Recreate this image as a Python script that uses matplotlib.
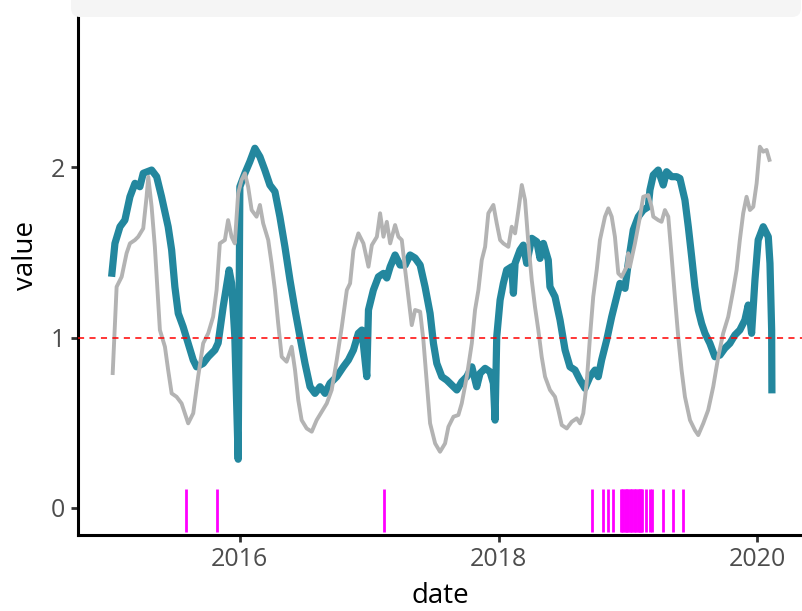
import matplotlib
matplotlib.use("Agg")
import matplotlib.pyplot as plt
import matplotlib.dates as mdates
from matplotlib.patches import FancyBboxPatch
from matplotlib.transforms import IdentityTransform
import numpy as np
from datetime import datetime

plt.rcParams['font.family'] = ['Open Sans', 'DejaVu Sans']

# ---- data (decimal years, values) ----
teal_t = [2015.007, 2015.033, 2015.072, 2015.110, 2015.149, 2015.188, 2015.226, 2015.252, 2015.317,
          2015.356, 2015.394, 2015.445, 2015.472, 2015.497, 2015.523, 2015.561, 2015.600, 2015.639,
          2015.665, 2015.716, 2015.755, 2015.807, 2015.832, 2015.871, 2015.917, 2015.936, 2015.961,
          2015.987, 2016.000, 2016.039, 2016.077, 2016.116, 2016.155, 2016.193, 2016.232, 2016.271,
          2016.309, 2016.348, 2016.387, 2016.426, 2016.464, 2016.503, 2016.542, 2016.580, 2016.619,
          2016.658, 2016.696, 2016.748, 2016.799, 2016.838, 2016.877, 2016.915, 2016.942, 2016.980,
          2016.993, 2017.031, 2017.070, 2017.109, 2017.135, 2017.161, 2017.199, 2017.238, 2017.277,
          2017.315, 2017.354, 2017.393, 2017.431, 2017.470, 2017.496, 2017.522, 2017.561, 2017.599,
          2017.638, 2017.677, 2017.715, 2017.754, 2017.793, 2017.831, 2017.857, 2017.896, 2017.934,
          2017.960, 2017.973, 2017.986, 2018.012, 2018.037, 2018.063, 2018.102, 2018.115, 2018.128,
          2018.166, 2018.192, 2018.218, 2018.257, 2018.296, 2018.321, 2018.347, 2018.385, 2018.398,
          2018.437, 2018.476, 2018.515, 2018.553, 2018.592, 2018.631, 2018.669, 2018.708, 2018.747,
          2018.772, 2018.798, 2018.837, 2018.876, 2018.915, 2018.940, 2018.979, 2019.004, 2019.043,
          2019.082, 2019.120, 2019.159, 2019.172, 2019.198, 2019.236, 2019.275, 2019.301, 2019.340,
          2019.379, 2019.404, 2019.443, 2019.469, 2019.495, 2019.520, 2019.546, 2019.572, 2019.598,
          2019.636, 2019.675, 2019.714, 2019.752, 2019.791, 2019.830, 2019.868, 2019.907, 2019.933,
          2019.959, 2019.985, 2020.010, 2020.049, 2020.088, 2020.101, 2020.114, 2020.116]
teal_v = [1.357, 1.553, 1.651, 1.690, 1.827, 1.906, 1.886, 1.965, 1.984,
          1.945, 1.827, 1.651, 1.514, 1.298, 1.142, 1.063, 0.966, 0.868,
          0.828, 0.848, 0.887, 0.927, 0.968, 1.181, 1.397, 1.320, 1.005,
          0.285, 1.886, 1.965, 2.033, 2.112, 2.062, 1.984, 1.896, 1.857,
          1.710, 1.533, 1.338, 1.162, 1.005, 0.848, 0.711, 0.672, 0.711,
          0.672, 0.731, 0.770, 0.828, 0.868, 0.927, 1.025, 1.044, 0.770,
          1.162, 1.279, 1.357, 1.377, 1.350, 1.416, 1.485, 1.426, 1.426,
          1.485, 1.467, 1.426, 1.298, 1.142, 0.966, 0.848, 0.770, 0.750,
          0.721, 0.692, 0.740, 0.770, 0.828, 0.711, 0.790, 0.819, 0.799,
          0.731, 0.515, 1.005, 1.220, 1.318, 1.397, 1.416, 1.260, 1.436,
          1.514, 1.543, 1.436, 1.583, 1.563, 1.465, 1.553, 1.455, 1.298,
          1.240, 1.103, 0.927, 0.828, 0.809, 0.750, 0.702, 0.770, 0.809,
          0.770, 0.868, 0.985, 1.122, 1.240, 1.318, 1.289, 1.436, 1.632,
          1.710, 1.749, 1.768, 1.867, 1.955, 1.984, 1.896, 1.974, 1.945,
          1.945, 1.935, 1.808, 1.651, 1.475, 1.298, 1.162, 1.083, 1.025,
          0.966, 0.887, 0.897, 0.937, 0.966, 1.015, 1.044, 1.103, 1.191,
          1.025, 1.338, 1.573, 1.651, 1.592, 1.436, 1.044, 0.672]

gray_t = [2015.015, 2015.046, 2015.085, 2015.123, 2015.149, 2015.188, 2015.213, 2015.252, 2015.278,
          2015.291, 2015.317, 2015.342, 2015.368, 2015.381, 2015.420, 2015.445, 2015.472, 2015.510,
          2015.549, 2015.600, 2015.639, 2015.677, 2015.716, 2015.755, 2015.793, 2015.820, 2015.845,
          2015.884, 2015.909, 2015.936, 2015.961, 2015.987, 2016.013, 2016.039, 2016.064, 2016.091,
          2016.129, 2016.155, 2016.180, 2016.219, 2016.245, 2016.271, 2016.296, 2016.323, 2016.361,
          2016.400, 2016.426, 2016.451, 2016.477, 2016.516, 2016.555, 2016.593, 2016.632, 2016.671,
          2016.709, 2016.748, 2016.787, 2016.826, 2016.851, 2016.877, 2016.915, 2016.954, 2016.993,
          2017.019, 2017.058, 2017.083, 2017.109, 2017.135, 2017.161, 2017.199, 2017.225, 2017.251,
          2017.277, 2017.302, 2017.328, 2017.354, 2017.393, 2017.418, 2017.445, 2017.470, 2017.509,
          2017.547, 2017.586, 2017.612, 2017.651, 2017.689, 2017.715, 2017.754, 2017.793, 2017.818,
          2017.844, 2017.870, 2017.896, 2017.921, 2017.960, 2017.986, 2018.012, 2018.037, 2018.076,
          2018.102, 2018.128, 2018.154, 2018.180, 2018.205, 2018.231, 2018.257, 2018.282, 2018.308,
          2018.334, 2018.360, 2018.398, 2018.437, 2018.463, 2018.489, 2018.528, 2018.566, 2018.605,
          2018.631, 2018.656, 2018.682, 2018.708, 2018.733, 2018.760, 2018.785, 2018.824, 2018.850,
          2018.876, 2018.901, 2018.927, 2018.953, 2018.992, 2019.004, 2019.017, 2019.056, 2019.095,
          2019.120, 2019.159, 2019.185, 2019.198, 2019.236, 2019.262, 2019.288, 2019.314, 2019.340,
          2019.365, 2019.391, 2019.417, 2019.443, 2019.482, 2019.520, 2019.546, 2019.585, 2019.623,
          2019.662, 2019.701, 2019.739, 2019.778, 2019.817, 2019.843, 2019.868, 2019.894, 2019.920,
          2019.946, 2019.972, 2019.998, 2020.023, 2020.049, 2020.075, 2020.101]
gray_v = [0.780, 1.298, 1.357, 1.495, 1.553, 1.573, 1.592, 1.641, 1.827,
          1.945, 1.768, 1.533, 1.201, 1.044, 0.946, 0.809, 0.672, 0.652,
          0.613, 0.496, 0.555, 0.770, 0.966, 1.025, 1.122, 1.279, 1.553,
          1.573, 1.690, 1.592, 1.553, 1.847, 1.925, 1.965, 1.886, 1.749,
          1.710, 1.779, 1.671, 1.573, 1.436, 1.279, 1.083, 0.887, 0.858,
          0.946, 0.809, 0.633, 0.515, 0.466, 0.447, 0.515, 0.564, 0.613,
          0.692, 0.868, 1.063, 1.279, 1.318, 1.514, 1.612, 1.553, 1.416,
          1.543, 1.592, 1.730, 1.592, 1.680, 1.553, 1.661, 1.592, 1.573,
          1.397, 1.240, 1.073, 1.162, 1.152, 0.985, 0.731, 0.496, 0.378,
          0.329, 0.378, 0.476, 0.535, 0.545, 0.613, 0.770, 0.966, 1.162,
          1.279, 1.455, 1.533, 1.730, 1.779, 1.671, 1.573, 1.553, 1.533,
          1.651, 1.612, 1.749, 1.896, 1.808, 1.553, 1.338, 1.181, 1.044,
          0.887, 0.770, 0.692, 0.652, 0.574, 0.486, 0.466, 0.505, 0.525,
          0.496, 0.555, 0.731, 1.005, 1.240, 1.397, 1.573, 1.710, 1.759,
          1.710, 1.592, 1.377, 1.357, 1.416, 1.495, 1.416, 1.553, 1.710,
          1.827, 1.837, 1.768, 1.710, 1.690, 1.680, 1.749, 1.710, 1.475,
          1.240, 1.005, 0.809, 0.652, 0.515, 0.456, 0.427, 0.496, 0.574,
          0.711, 0.887, 1.025, 1.122, 1.279, 1.397, 1.573, 1.730, 1.827,
          1.749, 1.768, 1.906, 2.121, 2.092, 2.102, 2.033]

event_t = [2015.580, 2015.820, 2017.116, 2018.721, 2018.811, 2018.850, 2018.884,
           2018.946, 2018.956, 2018.966, 2018.976, 2018.986, 2018.996, 2019.006,
           2019.016, 2019.026, 2019.036, 2019.046, 2019.056, 2019.066, 2019.076,
           2019.086, 2019.096, 2019.106, 2019.112, 2019.143, 2019.172, 2019.186,
           2019.275, 2019.352, 2019.425]
event_low, event_high = -0.14, 0.11
threshold = 1.0
x_ticks = [2016, 2018, 2020]
y_ticks = [0, 1, 2]


def yr2num(y):
    y0 = int(np.floor(y))
    a = mdates.date2num(datetime(y0, 1, 1))
    b = mdates.date2num(datetime(y0 + 1, 1, 1))
    return a + (y - y0) * (b - a)


W, H = 803, 611
fig = plt.figure(figsize=(W / 100, H / 100), dpi=100)
ax = fig.add_axes([78 / W, (H - 535) / H, 725 / W, 519 / H])

# top (cropped) legend box
fig.patches.append(FancyBboxPatch((71, H - 17), 730, 40, boxstyle="round,pad=0,rounding_size=9",
                                  transform=IdentityTransform(), facecolor="#f5f5f5",
                                  edgecolor="none", zorder=0))

tx = [yr2num(t) for t in teal_t]
gx = [yr2num(t) for t in gray_t]
ex = [yr2num(t) for t in event_t]

ax.plot(tx, teal_v, color="#23879e", lw=5.2, solid_capstyle="butt", solid_joinstyle="round", zorder=2)
ax.plot(gx, gray_v, color="#b3b3b3", lw=2.8, solid_capstyle="butt", solid_joinstyle="round", zorder=3)
ax.vlines(ex, event_low, event_high, color="#ff00ff", lw=2.0, zorder=3)
ax.axhline(threshold, color="#ff0000", lw=1.1, ls=(0, (4, 3.5)), zorder=4)

ax.set_xlim(yr2num(2014.747), yr2num(2020.356))
ax.set_ylim(-0.16, 2.889)
ax.set_xticks([yr2num(t) for t in x_ticks])
ax.xaxis.set_major_formatter(mdates.DateFormatter("%Y"))
ax.set_yticks(y_ticks)

for s in ["top", "right"]:
    ax.spines[s].set_visible(False)
for s in ["left", "bottom"]:
    ax.spines[s].set_linewidth(2.2)
    ax.spines[s].set_color("black")

ax.tick_params(axis="both", length=5, width=2, color="#333333", labelcolor="#4d4d4d",
               labelsize=18, pad=4)

fig.text(440.5 / W, (H - 603) / H, "date", ha="center", va="baseline", fontsize=20, color="black")
fig.text(33 / W, (H - 255) / H, "value", ha="center", va="baseline", rotation=90,
         rotation_mode="anchor", fontsize=20, color="black")

fig.savefig("out.png", dpi=100)
